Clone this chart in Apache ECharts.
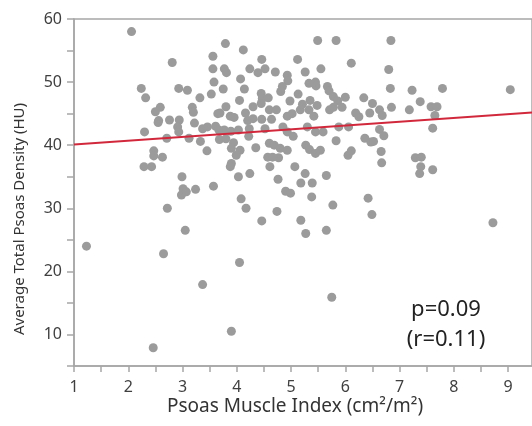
<!DOCTYPE html>
<html>
    <head>
        <meta charset="UTF-8">
        <title>Psoas Muscle Index vs Psoas Density</title>
        <style type="text/css">
            body,html{ margin: 0; padding: 0; width: 100vw; height: 100vh; overflow: hidden; background: #fff;}
            .chart-box{ width: 532px; height: 426px;}
        </style>
    </head>
    <body>
        <div class="chart-box" id="chart"></div>

        <script src="https://cdn.jsdelivr.net/npm/echarts/dist/echarts.min.js" type="text/javascript" charset="utf-8"></script>
        <script type="text/javascript">
            // axis ticks (labels only on the whole steps)
            var xTickStep = 0.5;
            var xLabelStep = 1;
            var yTickStep = 5;
            var yLabelStep = 10;

            // [PMI (cm2/m2), average psoas density (HU)]
            var points = [
                [2.06,58.0],[3.56,54.1],[2.81,53.1],[3.56,52.1],[3.58,50.0],[2.24,49.0],[2.93,49.0],[3.09,48.7],
                [2.32,47.5],[3.32,47.5],[3.53,48.1],[2.59,46.0],[2.50,45.3],[3.18,46.0],[3.20,45.2],[3.65,45.0],
                [2.56,43.9],[2.76,44.0],[2.94,44.0],[2.91,42.9],[3.22,43.5],[3.37,42.6],[3.46,42.9],[2.93,42.1],
                [2.30,42.1],[2.71,41.1],[3.12,41.1],[3.33,40.6],[2.47,39.1],[2.63,38.1],[2.47,38.3],[3.45,39.1],
                [2.55,43.6],[2.29,36.6],[2.43,36.6],[2.99,35.0],[3.01,33.1],[2.98,32.1],[3.07,32.6],[3.24,33.0],
                [3.57,33.5],[2.72,30.0],[3.05,26.5],[1.23,24.0],[2.65,22.8],[2.46,7.9],[3.37,17.9],[3.90,10.5],
                [4.05,21.4],[5.75,15.9],
                [4.77,38.0],[6.05,38.4],[3.90,37.1],[3.88,36.6],[4.61,36.6],[5.07,36.6],[5.26,35.5],[5.65,35.2],
                [4.03,35.0],[4.24,35.5],[4.76,34.6],[5.18,34.0],[5.39,34.0],[4.90,32.7],[4.99,32.4],[4.08,31.5],
                [5.38,31.8],[4.17,30.0],[4.74,29.5],[5.77,30.5],[4.46,28.0],[5.18,28.1],[5.27,26.0],[5.65,26.5],
                [6.66,39.0],[6.67,37.2],[7.29,38.0],[7.40,38.1],[7.39,36.6],[7.37,35.5],[7.61,36.1],[6.42,31.6],
                [6.49,29.0],[8.72,27.7],
                [6.84,56.6],[6.80,52.0],[6.83,49.0],[7.23,48.7],[7.79,49.0],[9.04,48.8],[6.34,47.5],[6.50,46.6],
                [6.45,45.1],[6.63,45.6],[6.68,44.7],[6.25,44.5],[6.85,46.0],[7.18,45.6],[7.38,46.9],[7.58,46.1],
                [7.69,46.1],[7.65,44.7],[7.61,42.7],[6.63,42.5],[6.71,41.5],[6.36,41.1],[6.47,40.5],[6.52,40.6],
                [3.79,56.1],[4.12,55.1],[5.49,56.6],[5.83,56.6],[4.46,53.6],[5.12,53.6],[6.11,53.0],[3.77,52.1],
                [3.81,51.5],[4.24,52.1],[4.39,51.5],[4.52,52.1],[4.71,51.6],[4.93,51.1],[4.94,50.2],[5.26,51.6],
                [5.55,52.1],[4.07,50.5],[3.75,48.9],[4.14,48.9],[4.84,49.3],[4.81,48.5],[5.33,49.8],[5.45,50.0],
                [5.46,49.4],[5.67,49.3],[5.70,48.6],[4.45,48.2],[4.47,47.4],[4.58,47.5],[4.98,47.0],[5.13,48.1],
                [4.05,47.1],[5.35,47.1],[5.78,47.7],[5.86,47.0],[6.00,47.6],[4.45,46.6],[4.60,45.6],[4.73,45.6],
                [4.93,44.6],[5.02,45.0],[5.17,45.6],[5.21,46.5],[5.33,45.6],[5.48,46.3],[5.42,44.6],[5.71,45.6],
                [5.78,46.0],[5.94,46.0],[6.19,45.1],[3.69,45.1],[3.80,46.1],[3.88,44.6],[3.95,44.4],[4.16,45.1],
                [4.30,46.1],[4.20,43.9],[4.30,44.2],[4.46,44.1],[4.64,44.1],[3.61,43.0],[3.67,42.4],[3.77,42.4],
                [3.89,42.2],[4.03,42.4],[4.23,42.6],[4.52,42.6],[4.85,42.9],[4.93,42.1],[5.04,41.4],[5.30,42.9],
                [5.45,42.1],[5.59,42.1],[5.88,42.9],[6.06,42.9],[5.83,40.7],[6.11,39.1],[3.68,40.9],[3.80,41.0],
                [3.94,40.4],[4.22,41.4],[4.60,40.3],[4.69,40.0],[4.80,39.5],[5.27,40.0],[5.34,39.3],[3.90,39.5],
                [4.06,39.2],[3.99,38.4],[4.35,39.6],[4.57,38.1],[4.66,38.1],[4.93,39.2],[5.54,39.2],[5.45,38.7]
            ];

            // linear fit, end points
            var fitLine = [[1, 40.1], [9.44, 45.2]];
            var statText = ['p=0.09', '(r=0.11)'];
            var xTitle = 'Psoas Muscle Index (cm²/m²)';
            var yTitle = 'Average Total Psoas Density (HU)';

            var axisColor = '#a6a6a6';
            var textColor = '#404040';
            var fontName = 'Noto Sans';

            var dom = document.getElementById('chart');
            var myChart = echarts.init(dom, null, {renderer: 'canvas'});

            var option = {
                animation: false,
                grid: {
                    left: 74,
                    right: -2,
                    top: 19,
                    bottom: 60,
                    show: true,
                    borderColor: axisColor,
                    borderWidth: 1.5,
                    backgroundColor: 'transparent'
                },
                xAxis: {
                    type: 'value',
                    min: 1,
                    max: 9.44,
                    interval: xTickStep,
                    splitLine: { show: false },
                    axisLine: { show: true, lineStyle: { color: axisColor, width: 1.5 } },
                    axisTick: { show: true, inside: false, length: 6, lineStyle: { color: axisColor, width: 1.5 } },
                    axisLabel: {
                        show: true,
                        margin: 13,
                        color: textColor,
                        fontSize: 16,
                        fontFamily: fontName,
                        showMaxLabel: false,
                        formatter: function (v) {
                            return Math.abs(v / xLabelStep - Math.round(v / xLabelStep)) < 1e-6 ? String(v) : '';
                        }
                    }
                },
                yAxis: {
                    type: 'value',
                    min: 5,
                    max: 60,
                    interval: yTickStep,
                    splitLine: { show: false },
                    axisLine: { show: true, lineStyle: { color: axisColor, width: 1.5 } },
                    axisTick: { show: true, inside: false, length: 7, lineStyle: { color: axisColor, width: 1.5 } },
                    axisLabel: {
                        show: true,
                        margin: 12,
                        color: textColor,
                        fontSize: 16,
                        fontFamily: fontName,
                        formatter: function (v) {
                            return v % yLabelStep === 0 ? String(v) : '';
                        }
                    }
                },
                graphic: [{
                    type: 'text',
                    x: 20,
                    y: 219,
                    rotation: Math.PI / 2,
                    style: {
                        text: yTitle,
                        fill: '#333',
                        font: '15px "Noto Sans"',
                        align: 'center',
                        verticalAlign: 'middle'
                    }
                }, {
                    type: 'text',
                    x: 295,
                    y: 407,
                    style: {
                        text: xTitle,
                        fill: '#333',
                        font: '19px "Noto Sans"',
                        align: 'center',
                        verticalAlign: 'middle'
                    }
                }, {
                    type: 'text',
                    x: 446,
                    y: 325,
                    style: {
                        text: statText.join('\n'),
                        fill: '#222',
                        font: '22px "Noto Sans"',
                        align: 'center',
                        verticalAlign: 'middle',
                        lineHeight: 30
                    }
                }],
                series: [{
                    type: 'scatter',
                    symbolSize: 9,
                    itemStyle: { color: '#9b9b9b', opacity: 1 },
                    data: points,
                    z: 2
                }, {
                    type: 'line',
                    symbol: 'none',
                    lineStyle: { color: '#d2283c', width: 2 },
                    data: fitLine,
                    z: 3
                }]
            };

            myChart.setOption(option, true);
            window.addEventListener('resize', function() {
                myChart.resize();
            });
        </script>
    </body>
</html>
